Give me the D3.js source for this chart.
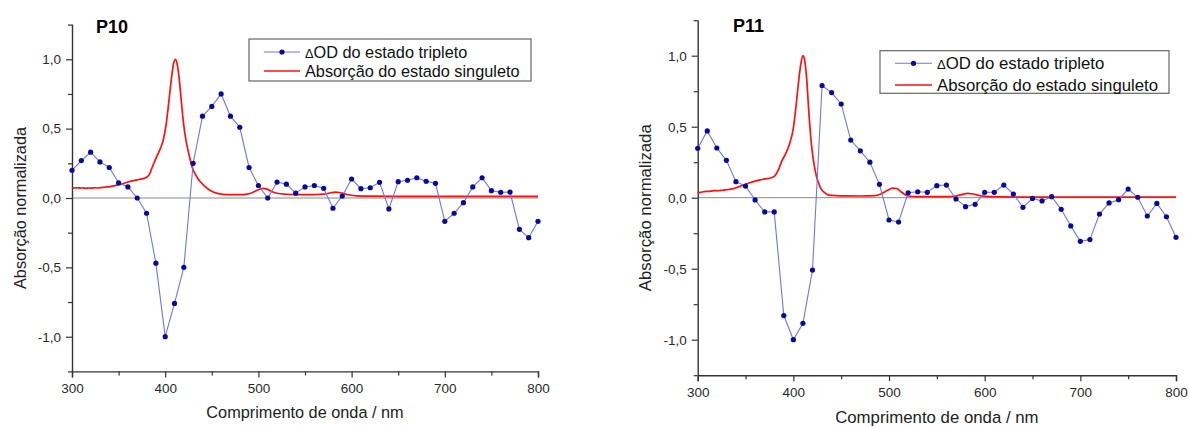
<!DOCTYPE html>
<html>
<head>
<meta charset="utf-8">
<script src="https://cdn.jsdelivr.net/npm/d3@7"></script>
<style>
  html, body { margin: 0; padding: 0; background: #ffffff; }
  svg { display: block; font-family: "Liberation Sans", Arial, sans-serif; }
</style>
</head>
<body>
<svg id="chart" width="1189" height="428"></svg>
<script>
// ---------------- DATA ----------------
const wavelengths = [300,310,320,330,340,350,360,370,380,390,400,410,420,430,440,450,460,470,480,490,
  500,510,520,530,540,550,560,570,580,590,600,610,620,630,640,650,660,670,680,690,
  700,710,720,730,740,750,760,770,780,790,800];

const tripletP10 = [0.20,0.27,0.33,0.26,0.22,0.11,0.08,0.00,-0.11,-0.47,-1.00,-0.76,-0.50,0.25,0.59,0.66,0.75,0.59,0.51,0.22,
  0.09,0.00,0.115,0.10,0.035,0.08,0.09,0.07,-0.074,0.014,0.137,0.067,0.074,0.113,-0.079,0.118,0.128,0.146,0.12,0.106,
  -0.168,-0.11,-0.034,0.08,0.146,0.053,0.041,0.043,-0.226,-0.286,-0.168];

const tripletP11 = [0.348,0.47,0.35,0.263,0.113,0.082,-0.016,-0.10,-0.10,-0.83,-1.00,-0.885,-0.51,0.79,0.74,0.66,0.406,0.33,0.25,0.094,
  -0.157,-0.171,0.035,0.042,0.038,0.085,0.089,-0.009,-0.063,-0.047,0.038,0.038,0.089,0.026,-0.068,-0.005,-0.023,0.007,-0.082,-0.199,
  -0.307,-0.295,-0.115,-0.037,-0.014,0.061,0.003,-0.129,-0.04,-0.134,-0.279];

const singletNmP10 = [300,303,306,309,312,315,318,321,324,327,330,333,336,339,342,345,350,355,360,365,370,375,380,383,386,389,392,395,398,401,404,407,409,411,413,415,417,419,421,423,426,429,432,435,438,442,446,450,455,460,470,480,488,494,500,505,510,515,520,530,540,550,560,570,576,582,588,595,605,620,650,700,750,800];
const singletP10 = [0.075,0.072,0.074,0.071,0.073,0.070,0.072,0.071,0.074,0.072,0.075,0.076,0.079,0.080,0.084,0.088,0.095,0.104,0.115,0.124,0.131,0.138,0.15,0.17,0.22,0.27,0.315,0.36,0.42,0.53,0.70,0.88,0.97,1.0,0.96,0.86,0.72,0.58,0.47,0.39,0.30,0.22,0.175,0.14,0.115,0.088,0.065,0.048,0.035,0.028,0.024,0.024,0.028,0.04,0.06,0.07,0.062,0.045,0.034,0.027,0.024,0.024,0.025,0.028,0.035,0.042,0.038,0.025,0.016,0.013,0.012,0.012,0.012,0.012];

const singletNmP11 = [300,303,306,309,312,315,318,321,324,327,330,333,336,340,345,350,355,360,365,370,375,380,384,388,392,396,400,403,406,408,410,412,414,416,418,420,422,424,426,428,431,435,440,450,470,485,492,498,504,508,512,516,520,530,560,570,576,582,588,595,605,650,800];
const singletP11 = [0.035,0.038,0.042,0.045,0.044,0.048,0.050,0.049,0.052,0.053,0.056,0.058,0.062,0.070,0.082,0.095,0.107,0.117,0.125,0.132,0.137,0.15,0.19,0.26,0.31,0.38,0.49,0.66,0.85,0.95,1.0,0.96,0.83,0.62,0.44,0.31,0.22,0.155,0.11,0.075,0.045,0.025,0.016,0.013,0.012,0.014,0.028,0.05,0.068,0.065,0.045,0.025,0.012,0.008,0.008,0.012,0.022,0.03,0.026,0.015,0.007,0.004,0.004];

const xTicks = [300,400,500,600,700,800];
const yTicks = [-1.0,-0.5,0.0,0.5,1.0];
const panelTitles = ["P10","P11"];
const legendLabels = ["OD do estado tripleto","Absorção do estado singuleto"];
const xTitle = "Comprimento de onda / nm";
const yTitle = "Absorção normalizada";

// ---------------- LAYOUT ----------------
const panels = [
  { title: panelTitles[0], trip: tripletP10, sNm: singletNmP10, s: singletP10,
    x0: 72, x1: 538, yTop: 24.6, yBot: 371.4, font: 16.3,
    titleX: 96, titleY: 33,
    leg: { x: 249, y: 39, w: 282, h: 42, r1: 13, r2: 32, l0: 15, l1: 51, tx: 56 },
    xTitleY: 418, yTitleX: 26 },
  { title: panelTitles[1], trip: tripletP11, sNm: singletNmP11, s: singletP11,
    x0: 697.7, x1: 1176, yTop: 20.2, yBot: 375.2, font: 16.8,
    titleX: 733, titleY: 32,
    leg: { x: 880, y: 50.7, w: 289, h: 42.6, r1: 12.6, r2: 34.3, l0: 15, l1: 52, tx: 57 },
    xTitleY: 423, yTitleX: 651 }
];

const svg = d3.select("#chart");
const fmt = v => d3.format(".1f")(v).replace(".", ",").replace("−", "-");

panels.forEach(p => {
  const x = d3.scaleLinear().domain([300, 800]).range([p.x0, p.x1]);
  const y = d3.scaleLinear().domain([-1.25, 1.25]).range([p.yBot, p.yTop]);
  const g = svg.append("g");

  // zero line
  g.append("line")
    .attr("x1", x(300)).attr("x2", x(800))
    .attr("y1", y(0)).attr("y2", y(0))
    .attr("stroke", "#8a8a8a").attr("stroke-width", 1);

  // axes
  const xAxis = d3.axisBottom(x).tickValues(xTicks).tickSize(6).tickPadding(6).tickFormat(d3.format("d"));
  const xMinor = d3.axisBottom(x).tickValues([350,450,550,650,750]).tickSize(4).tickFormat("");
  const yAxis = d3.axisLeft(y).tickValues(yTicks).tickSize(6).tickPadding(5).tickFormat(fmt);
  const yMinor = d3.axisLeft(y).tickValues([-1.25,-0.75,-0.25,0.25,0.75,1.25]).tickSize(4).tickFormat("");

  const gx = g.append("g").attr("transform", `translate(0,${y(-1.25)})`).call(xAxis);
  const gxm = g.append("g").attr("transform", `translate(0,${y(-1.25)})`).call(xMinor);
  const gy = g.append("g").attr("transform", `translate(${x(300)},0)`).call(yAxis);
  const gym = g.append("g").attr("transform", `translate(${x(300)},0)`).call(yMinor);
  [gx, gxm, gy, gym].forEach(a => {
    a.select(".domain").attr("stroke", "#333").attr("stroke-width", 1.4);
    a.selectAll(".tick line").attr("stroke", "#333").attr("stroke-width", 1.2);
    a.selectAll(".tick text").attr("fill", "#2a2a2a")
      .style("font-family", '"Liberation Sans", Arial, sans-serif').style("font-size", "13.5px");
  });
  gxm.select(".domain").remove();
  gym.select(".domain").remove();
  gy.select(".domain").attr("d", `M0.5,${y(1.25)}V${y(-1.25)}`);

  // axis titles
  g.append("text")
    .attr("x", (x(300) + x(800)) / 2).attr("y", p.xTitleY)
    .attr("text-anchor", "middle").attr("fill", "#222")
    .style("font-size", p.font + "px").text(xTitle);
  g.append("text")
    .attr("transform", `translate(${p.yTitleX},${y(0) + 10}) rotate(-90)`)
    .attr("text-anchor", "middle").attr("fill", "#222")
    .style("font-size", p.font + "px").text(yTitle);

  // panel title
  g.append("text").attr("x", p.titleX).attr("y", p.titleY)
    .attr("fill", "#000").style("font-weight", "bold").style("font-size", "18px")
    .text(p.title);

  // singlet absorption (red)
  const redLine = d3.line().x(d => x(d[0])).y(d => y(d[1])).curve(d3.curveMonotoneX);
  g.append("path")
    .datum(p.sNm.map((n, i) => [n, p.s[i]]))
    .attr("d", redLine).attr("fill", "none")
    .attr("stroke", "#ff1010").attr("stroke-width", 1.7);

  // triplet ΔOD (blue)
  const tripData = wavelengths.map((n, i) => [n, p.trip[i]]);
  const blueLine = d3.line().x(d => x(d[0])).y(d => y(d[1]));
  g.append("path").datum(tripData).attr("d", blueLine).attr("fill", "none")
    .attr("stroke", "#6d78dc").attr("stroke-width", 1.1);
  g.selectAll("circle.pt").data(tripData).enter().append("circle")
    .attr("class", "pt")
    .attr("cx", d => x(d[0])).attr("cy", d => y(d[1])).attr("r", 2.6)
    .attr("fill", "#0a0a9a");

  // legend
  const L = p.leg;
  const lg = g.append("g").attr("transform", `translate(${L.x},${L.y})`);
  lg.append("rect").attr("width", L.w).attr("height", L.h)
    .attr("fill", "#fff").attr("stroke", "#666").attr("stroke-width", 1.2);
  lg.append("line").attr("x1", L.l0).attr("x2", L.l1).attr("y1", L.r1).attr("y2", L.r1)
    .attr("stroke", "#6d78dc").attr("stroke-width", 1.1);
  lg.append("circle").attr("cx", (L.l0 + L.l1) / 2).attr("cy", L.r1).attr("r", 2.6).attr("fill", "#0a0a9a");
  lg.append("line").attr("x1", L.l0).attr("x2", L.l1).attr("y1", L.r2).attr("y2", L.r2)
    .attr("stroke", "#ff1010").attr("stroke-width", 1.7);
  const t1 = lg.append("text").attr("x", L.tx).attr("y", L.r1).attr("dy", "0.36em")
    .attr("fill", "#111").style("font-size", p.font + "px");
  t1.append("tspan").style("font-size", (p.font * 0.78) + "px").text("Δ");
  t1.append("tspan").text(legendLabels[0]);
  lg.append("text").attr("x", L.tx).attr("y", L.r2).attr("dy", "0.36em")
    .attr("fill", "#111").style("font-size", p.font + "px").text(legendLabels[1]);
});
</script>
</body>
</html>
